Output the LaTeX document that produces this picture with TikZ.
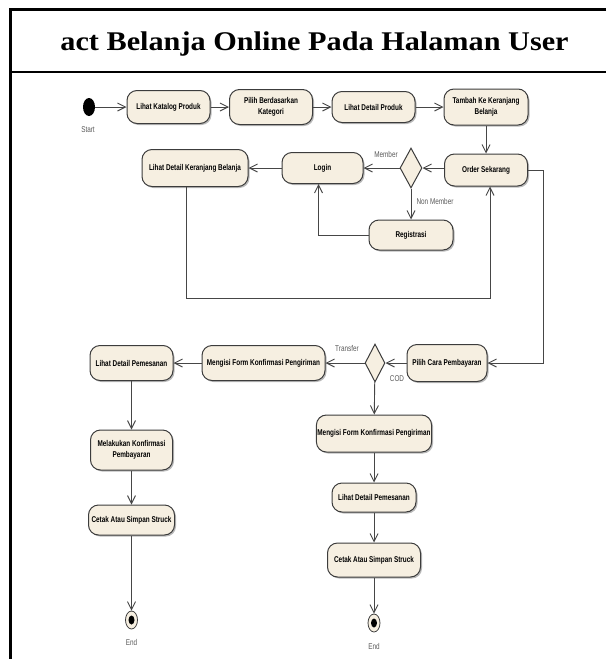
\documentclass[tikz,border=0pt]{standalone}
\usepackage{fontspec}
\usetikzlibrary{arrows.meta,shapes.geometric,shadows}
\newfontfamily\umlfont[FakeStretch=0.76]{Liberation Sans}
\newfontfamily\titlefont[FakeStretch=1.12]{Liberation Serif}
\definecolor{actfill}{RGB}{246,239,225}
\definecolor{actline}{RGB}{60,60,60}
\definecolor{flowline}{RGB}{70,70,70}

\begin{document}
\begin{tikzpicture}[x=1pt,y=-1pt,
  act/.style={draw=actline,line width=1pt,rounded corners=10pt,fill=actfill,
    inner sep=1pt,align=center,minimum width=83pt,minimum height=32pt,
    font=\umlfont\bfseries\fontsize{8.4}{11.5}\selectfont,
    drop shadow={shadow xshift=1.5pt,shadow yshift=-1.5pt,fill=black!45,opacity=0.6}},
  decision/.style={diamond,draw=actline,line width=1pt,fill=actfill,inner sep=0pt,
    minimum width=22pt,minimum height=40pt},
  startnode/.style={ellipse,fill=black,inner sep=0pt,minimum width=12pt,minimum height=18pt},
  endnode/.style={ellipse,draw=actline,line width=0.8pt,fill=actfill,inner sep=0pt,
    minimum width=12pt,minimum height=18pt,
    path picture={\fill[black] (path picture bounding box.center) ellipse (3pt and 4.5pt);}},
  flow/.style={draw=flowline,line width=0.9pt,-{Straight Barb[length=8pt,width=8pt]}},
  guard/.style={text=black!65,font=\umlfont\fontsize{8.4}{10}\selectfont,inner sep=0pt}]

  \useasboundingbox (0,0) rectangle (606,659);
  \draw[line width=3pt] (606,9.5) -- (10.5,9.5) -- (10.5,659);
  \draw[line width=2.7pt] (10.5,72) -- (606,72);
  \node[anchor=base,font=\titlefont\bfseries\fontsize{27}{30}\selectfont] (judul) at (314.5,50) {act Belanja Online Pada Halaman User};

  \node[startnode] (start) at (89,107) {};
  \node[guard] (startlbl) at (88,130) {Start};
  \node[act,minimum height=33pt] (katalog) at (168.5,107) {Lihat Katalog Produk};
  \node[act,minimum height=35pt] (kategori) at (271,107) {Pilih Berdasarkan\\Kategori};
  \node[act,minimum height=31pt] (dproduk) at (373.5,107) {Lihat Detail Produk};
  \node[act,minimum width=84pt,minimum height=36pt] (tambah) at (486,107) {Tambah Ke Keranjang\\Belanja};

  \node[act] (order) at (486,170) {Order Sekarang};
  \node[decision] (member) at (411,168) {};
  \node[act,minimum width=81pt,minimum height=31pt] (login) at (322.5,168) {Login};
  \node[act,minimum width=106pt,minimum height=37pt] (keranjang) at (195,168) {Lihat Detail Keranjang Belanja};
  \node[act,minimum width=84pt,minimum height=30pt] (registrasi) at (411,235) {Registrasi};
  \node[guard] (memberlbl) at (386,154) {Member};
  \node[guard] (nonmemberlbl) at (435,201) {Non Member};
  \coordinate (retour) at (490,298);
  \coordinate (keluar) at (543,363);

  \node[act,minimum width=80pt,minimum height=37pt] (bayar) at (447,363) {Pilih Cara Pembayaran};
  \node[decision,minimum width=20pt,minimum height=38pt] (cara) at (375,363) {};
  \node[act,minimum width=123pt,minimum height=35pt] (formtf) at (263.5,363) {Mengisi Form Konfirmasi Pengiriman};
  \node[act,minimum height=35pt] (pesantf) at (131.5,363) {Lihat Detail Pemesanan};
  \node[guard] (transferlbl) at (347,348) {Transfer};
  \node[guard] (codlbl) at (397,379) {COD};

  \node[act,minimum width=82pt,minimum height=40pt] (konfirmasi) at (131.5,450) {Melakukan Konfirmasi\\Pembayaran};
  \node[act,minimum width=86pt,minimum height=30pt] (cetaktf) at (131.5,520) {Cetak Atau Simpan Struck};
  \node[endnode] (endtf) at (131.5,620) {};
  \node[guard] (endtflbl) at (131.5,642) {End};

  \node[act,minimum width=115pt,minimum height=37pt] (formcod) at (374,433.5) {Mengisi Form Konfirmasi Pengiriman};
  \node[act,minimum width=84pt,minimum height=29pt] (pesancod) at (374,497.5) {Lihat Detail Pemesanan};
  \node[act,minimum width=93pt,minimum height=34pt] (cetakcod) at (374,560) {Cetak Atau Simpan Struck};
  \node[endnode] (endcod) at (374,623) {};
  \node[guard] (endcodlbl) at (374,646) {End};

  \draw[flow] (start) -- (katalog);
  \draw[flow] (katalog) -- (kategori);
  \draw[flow] (kategori) -- (dproduk);
  \draw[flow] (dproduk) -- (tambah);
  \draw[flow] (tambah) -- (order);
  \draw[flow] (order.west |- member) -- (member);
  \draw[flow] (member) -- (login);
  \draw[flow] (member) -- (registrasi);
  \draw[flow] (registrasi.west) -| ([xshift=-4pt]login.south);
  \draw[flow] (login) -- (keranjang);
  \draw[flow] ([xshift=-9pt]keranjang.south) |- (retour) -- (retour |- order.south);
  \draw[flow] (order.east) -| (keluar) -- (bayar);

  \draw[flow] (bayar) -- (cara);
  \draw[flow] (cara) -- (formtf);
  \draw[flow] (formtf) -- (pesantf);
  \draw[flow] (pesantf) -- (konfirmasi);
  \draw[flow] (konfirmasi) -- (cetaktf);
  \draw[flow] (cetaktf) -- (endtf);
  \draw[flow] (cara) -- (formcod);
  \draw[flow] (formcod) -- (pesancod);
  \draw[flow] (pesancod) -- (cetakcod);
  \draw[flow] (cetakcod) -- (endcod);
\end{tikzpicture}
\end{document}
